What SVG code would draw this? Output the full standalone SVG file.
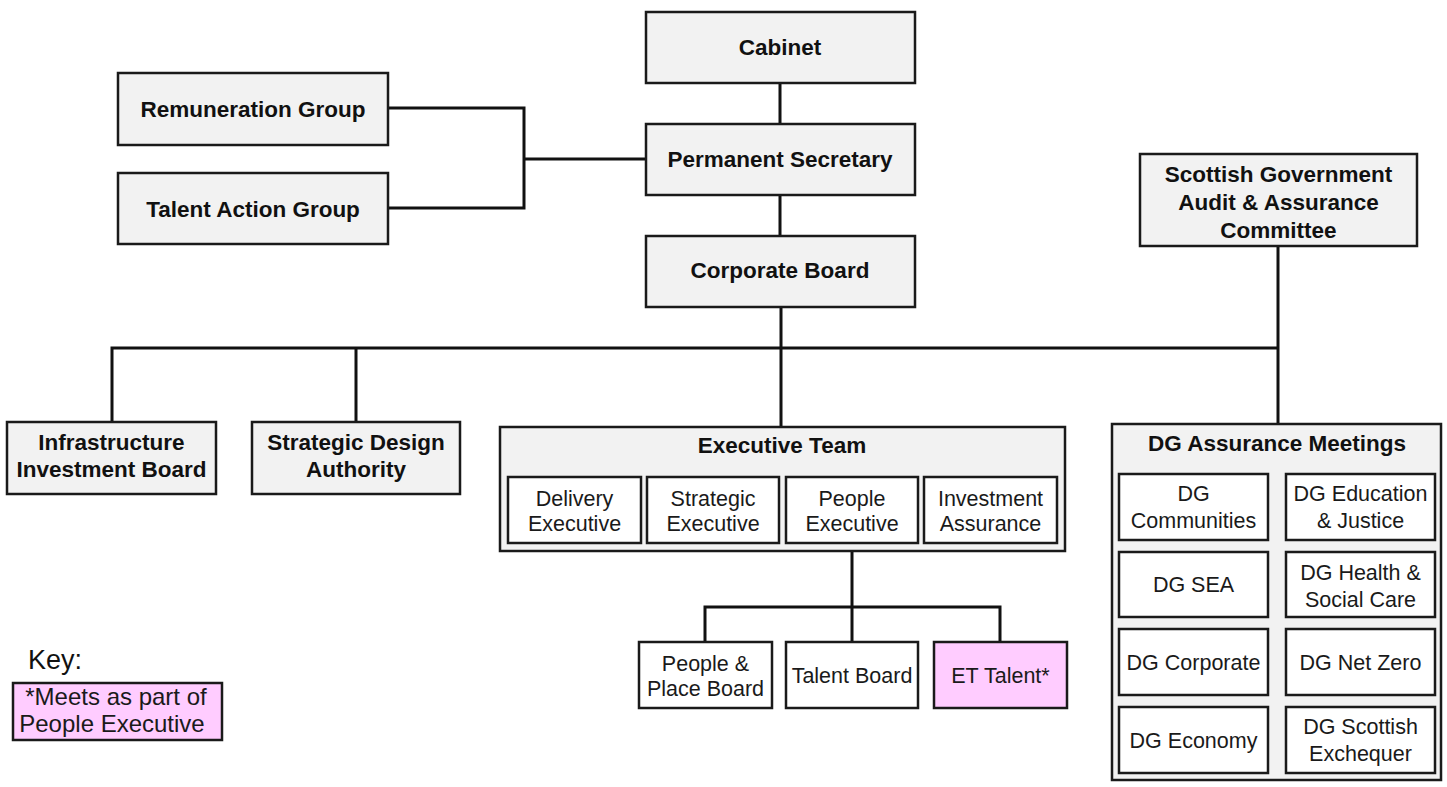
<svg xmlns="http://www.w3.org/2000/svg" width="1447" height="787" viewBox="0 0 1447 787">
<style>
.g{fill:#f2f2f2;stroke:#1a1a1a;stroke-width:2.5}
.w{fill:#ffffff;stroke:#1a1a1a;stroke-width:2.5}
.p{fill:#ffccff;stroke:#1a1a1a;stroke-width:2.5}
.b{font-family:"Liberation Sans",Arial,sans-serif;font-weight:bold;font-size:22.5px;fill:#111;text-anchor:middle}
.r{font-family:"Liberation Sans",Arial,sans-serif;font-size:21.5px;fill:#1a1a1a;text-anchor:middle}
.k{font-family:"Liberation Sans",Arial,sans-serif;font-size:24px;fill:#1a1a1a;text-anchor:middle}
.c{fill:none;stroke:#111;stroke-width:3}
</style>
<rect width="1447" height="787" fill="#ffffff"/>
<g id="connectors">
<path class="c" d="M780,83V124M780,195V236"/>
<path class="c" d="M388,108H524V208H388M524,159H646"/>
<path class="c" d="M781,307V427M112,422V348H1278M356,348V422"/>
<path class="c" d="M1278,246V424"/>
<path class="c" d="M852,543V642M705,642V607H1000V642"/>
</g>
<g id="cabinet"><rect class="g" x="646" y="12" width="269" height="71"/><text class="b" x="780" y="55">Cabinet</text></g>
<g id="permanent-secretary"><rect class="g" x="646" y="124" width="269" height="71"/><text class="b" x="780" y="167">Permanent Secretary</text></g>
<g id="corporate-board"><rect class="g" x="646" y="236" width="269" height="71"/><text class="b" x="780" y="278">Corporate Board</text></g>
<g id="remuneration-group"><rect class="g" x="118" y="73" width="270" height="72"/><text class="b" x="253" y="117">Remuneration Group</text></g>
<g id="talent-action-group"><rect class="g" x="118" y="173" width="270" height="71"/><text class="b" x="253" y="217">Talent Action Group</text></g>
<g id="audit-assurance"><rect class="g" x="1140" y="154" width="277" height="92"/><text class="b" x="1278.5" y="182">Scottish Government</text><text class="b" x="1278.5" y="210">Audit &amp; Assurance</text><text class="b" x="1278.5" y="238">Committee</text></g>
<g id="infrastructure-investment-board"><rect class="g" x="7" y="422" width="209" height="72"/><text class="b" x="111.5" y="450">Infrastructure</text><text class="b" x="111.5" y="477">Investment Board</text></g>
<g id="strategic-design-authority"><rect class="g" x="252" y="422" width="208" height="72"/><text class="b" x="356" y="450">Strategic Design</text><text class="b" x="356" y="477">Authority</text></g>
<g id="executive-team"><rect class="g" x="500" y="427" width="565" height="124"/><text class="b" x="782" y="453">Executive Team</text>
<g id="delivery-executive"><rect class="w" x="508" y="477" width="133" height="66"/><text class="r" x="574.5" y="506">Delivery</text><text class="r" x="574.5" y="531">Executive</text></g>
<g id="strategic-executive"><rect class="w" x="647" y="477" width="132" height="66"/><text class="r" x="713" y="506">Strategic</text><text class="r" x="713" y="531">Executive</text></g>
<g id="people-executive"><rect class="w" x="786" y="477" width="132" height="66"/><text class="r" x="852" y="506">People</text><text class="r" x="852" y="531">Executive</text></g>
<g id="investment-assurance"><rect class="w" x="924" y="477" width="133" height="66"/><text class="r" x="990.5" y="506">Investment</text><text class="r" x="990.5" y="531">Assurance</text></g>
</g>
<g id="people-place-board"><rect class="w" x="639" y="642" width="133" height="66"/><text class="r" x="705.5" y="671">People &amp;</text><text class="r" x="705.5" y="696">Place Board</text></g>
<g id="talent-board"><rect class="w" x="786" y="642" width="132" height="66"/><text class="r" x="852" y="683">Talent Board</text></g>
<g id="et-talent"><rect class="p" x="934" y="642" width="133" height="66"/><text class="r" x="1000.5" y="683">ET Talent*</text></g>
<g id="dg-assurance-meetings"><rect class="g" x="1112" y="424" width="329" height="356"/><text class="b" x="1277" y="451">DG Assurance Meetings</text>
<g id="dg-communities"><rect class="w" x="1119" y="474" width="149" height="66"/><text class="r" x="1193.5" y="501">DG</text><text class="r" x="1193.5" y="528">Communities</text></g>
<g id="dg-education-justice"><rect class="w" x="1286" y="474" width="149" height="66"/><text class="r" x="1360.5" y="501">DG Education</text><text class="r" x="1360.5" y="528">&amp; Justice</text></g>
<g id="dg-sea"><rect class="w" x="1119" y="552" width="149" height="65"/><text class="r" x="1193.5" y="592">DG SEA</text></g>
<g id="dg-health-social-care"><rect class="w" x="1286" y="552" width="149" height="65"/><text class="r" x="1360.5" y="580">DG Health &amp;</text><text class="r" x="1360.5" y="607">Social Care</text></g>
<g id="dg-corporate"><rect class="w" x="1119" y="629" width="149" height="66"/><text class="r" x="1193.5" y="670">DG Corporate</text></g>
<g id="dg-net-zero"><rect class="w" x="1286" y="629" width="149" height="66"/><text class="r" x="1360.5" y="670">DG Net Zero</text></g>
<g id="dg-economy"><rect class="w" x="1119" y="707" width="149" height="66"/><text class="r" x="1193.5" y="748">DG Economy</text></g>
<g id="dg-scottish-exchequer"><rect class="w" x="1286" y="707" width="149" height="66"/><text class="r" x="1360.5" y="734">DG Scottish</text><text class="r" x="1360.5" y="761">Exchequer</text></g>
</g>
<g id="key">
<text x="28" y="669" style="font-family:'Liberation Sans',Arial,sans-serif;font-size:27px;fill:#111">Key:</text>
<rect class="p" x="13" y="683" width="209" height="57"/>
<text class="k" x="116" y="705">*Meets as part of</text>
<text class="k" x="112" y="732">People Executive</text>
</g>
</svg>
